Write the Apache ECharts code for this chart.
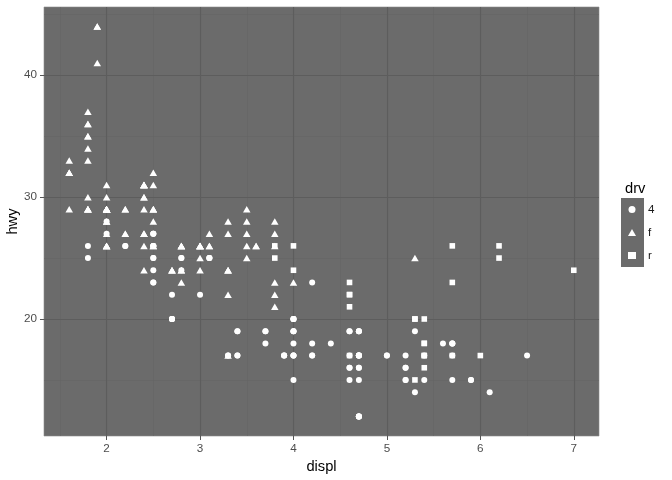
<!DOCTYPE html>
<html><head><meta charset="utf-8">
<script src="https://cdn.jsdelivr.net/npm/echarts@6/dist/echarts.min.js"></script>
<style>html,body{margin:0;padding:0;background:#fff}#c{width:672px;height:480px}</style>
</head><body><div id="c"></div>
<script>
// mpg dataset: displ, hwy, drv
const displ = [
  1.8,1.8,2.0,2.0,2.8,2.8,3.1,
  1.8,1.8,2.0,2.0,2.8,2.8,3.1,3.1,
  2.8,3.1,4.2,
  5.3,5.3,5.3,5.7,6.0,
  5.7,5.7,6.2,6.2,7.0,
  5.3,5.3,5.7,6.5,
  2.4,2.4,3.1,3.5,3.6,
  2.4,3.0,3.3,3.3,3.3,3.3,3.3,3.8,3.8,3.8,4.0,
  3.7,3.7,3.9,3.9,4.7,4.7,4.7,5.2,5.2,
  3.9,4.7,4.7,4.7,5.2,5.7,5.9,
  4.7,4.7,4.7,4.7,4.7,4.7,5.2,5.2,5.7,5.9,
  4.6,5.4,5.4,
  4.0,4.0,4.0,4.0,4.6,5.0,
  4.2,4.2,4.6,4.6,4.6,5.4,5.4,
  3.8,3.8,4.0,4.0,4.6,4.6,4.6,4.6,5.4,
  1.6,1.6,1.6,1.6,1.6,1.8,1.8,1.8,2.0,
  2.4,2.4,2.4,2.4,2.5,2.5,3.3,
  2.0,2.0,2.0,2.0,2.7,2.7,2.7,
  3.0,3.7,4.0,4.7,4.7,4.7,5.7,6.1,
  4.0,4.2,4.4,4.6,
  5.4,5.4,5.4,
  4.0,4.0,4.6,5.0,
  2.4,2.4,2.5,2.5,3.5,3.5,
  3.0,3.0,3.5,
  3.3,3.3,4.0,5.6,
  3.1,3.8,3.8,3.8,5.3,
  2.5,2.5,2.5,2.5,2.5,2.5,
  2.2,2.2,2.5,2.5,2.5,2.5,2.5,2.5,
  2.7,2.7,3.4,3.4,4.0,4.7,
  2.2,2.2,2.4,2.4,3.0,3.0,3.5,
  2.2,2.2,2.4,2.4,3.0,3.0,3.3,
  1.8,1.8,1.8,1.8,1.8,
  4.7,5.7,
  2.7,2.7,2.7,3.4,3.4,4.0,4.0,
  2.0,2.0,2.0,2.0,2.8,
  1.9,2.0,2.0,2.0,2.0,2.5,2.5,2.8,2.8,
  1.9,1.9,2.0,2.0,2.5,2.5,
  1.8,1.8,2.0,2.0,2.8,2.8,3.6
];
const hwy = [
  29,29,31,30,26,26,27,
  26,25,28,27,25,25,25,25,
  24,25,23,
  20,15,20,17,17,
  26,23,26,25,24,
  19,14,15,17,
  27,30,26,29,26,
  24,24,22,24,24,24,17,22,21,23,23,
  19,18,17,17,19,19,12,17,15,
  17,17,12,17,16,18,15,
  16,12,17,17,16,12,15,16,17,15,
  17,17,18,
  17,19,17,19,19,17,
  17,17,16,16,17,15,17,
  26,25,26,24,21,22,23,22,20,
  33,32,32,29,32,34,36,36,29,
  26,27,30,31,26,26,28,
  26,29,28,27,24,24,24,
  22,19,20,17,12,19,18,14,
  15,18,18,15,
  17,16,18,
  17,19,19,17,
  27,29,31,32,27,26,
  26,25,25,
  17,17,20,18,
  26,26,27,28,25,
  25,24,27,25,26,23,
  26,26,26,26,27,23,27,26,
  20,20,19,17,20,17,
  29,27,31,31,26,26,28,
  27,29,31,31,26,26,27,
  30,33,35,37,35,
  15,18,
  20,20,22,17,19,18,20,
  29,26,29,29,24,
  44,29,26,29,29,29,29,23,24,
  44,41,29,26,28,29,
  29,29,28,29,26,26,26
];
const drv = [
  'f','f','f','f','f','f','f',
  '4','4','4','4','4','4','4','4',
  '4','4','4',
  'r','r','r','r','r',
  'r','r','r','r','r',
  '4','4','4','4',
  'f','f','f','f','f',
  'f','f','f','f','f','f','f','f','f','f','f',
  '4','4','4','4','4','4','4','4','4',
  '4','4','4','4','4','4','4',
  '4','4','4','4','4','4','4','4','4','4',
  'r','r','r',
  '4','4','4','4','4','4',
  '4','4','4','4','4','4','4',
  'r','r','r','r','r','r','r','r','r',
  'f','f','f','f','f','f','f','f','f',
  'f','f','f','f','f','f','f',
  'f','f','f','f','f','f','f',
  '4','4','4','4','4','4','4','4',
  '4','4','4','4',
  'r','r','r',
  '4','4','4','4',
  'f','f','f','f','f','f',
  'f','f','f',
  '4','4','4','4',
  'f','f','f','f','f',
  '4','4','4','4','4','4',
  '4','4','4','4','4','4','4','4',
  '4','4','4','4','4','4',
  'f','f','f','f','f','f','f',
  'f','f','f','f','f','f','f',
  'f','f','f','f','f',
  '4','4',
  '4','4','4','4','4','4','4',
  'f','f','f','f','f',
  'f','f','f','f','f','f','f','f','f',
  'f','f','f','f','f','f',
  'f','f','f','f','f','f','f'
];
const drvLevels = ['4', 'f', 'r'];
const xTicks = [2, 3, 4, 5, 6, 7];
const xMinor = [1.5, 2.5, 3.5, 4.5, 5.5, 6.5];
const yTicks = [20, 30, 40];
const yMinor = [15, 25, 35, 45];

const shapes = { '4': 'circle', 'f': 'triangle', 'r': 'rect' };
const sizes = { '4': 6, 'f': [7.5, 6.5], 'r': 5.6 };

const PANEL = '#6b6b6b';
const MAJOR = '#5d5d5d';
const MINOR = '#646464';
const FONT = 'Liberation Sans, Arial, sans-serif';

const pointSeries = drvLevels.map(lv => ({
  name: lv,
  type: 'scatter',
  symbol: shapes[lv],
  symbolSize: sizes[lv],
  itemStyle: { color: '#ffffff', opacity: 1 },
  z: 5,
  silent: true,
  data: displ.map((d, i) => [d, hwy[i], drv[i]]).filter(p => p[2] === lv).map(p => [p[0], p[1]])
}));

const gridLines = [];
xMinor.forEach(v => gridLines.push({ xAxis: v, lineStyle: { color: MINOR, width: 0.6 } }));
yMinor.forEach(v => gridLines.push({ yAxis: v, lineStyle: { color: MINOR, width: 0.6 } }));
xTicks.forEach(v => gridLines.push({ xAxis: v, lineStyle: { color: MAJOR, width: 1.1 } }));
yTicks.forEach(v => gridLines.push({ yAxis: v, lineStyle: { color: MAJOR, width: 1.1 } }));

const gridSeries = {
  name: 'grid', type: 'scatter', data: [], z: 1, silent: true,
  markLine: {
    silent: true, symbol: ['none', 'none'], animation: false,
    label: { show: false },
    lineStyle: { type: 'solid' },
    emphasis: { disabled: true },
    data: gridLines
  }
};

const chart = echarts.init(document.getElementById('c'), null, { renderer: 'canvas' });
chart.setOption({
  animation: false,
  backgroundColor: '#ffffff',
  textStyle: { fontFamily: FONT },
  grid: { left: 44, right: 73, top: 7, bottom: 44, show: true, backgroundColor: PANEL, borderColor: '#8c8c8c', borderWidth: 0.6, containLabel: false, outerBoundsMode: 'none' },
  title: {
    text: 'drv', left: 620, top: 176,
    textStyle: { fontFamily: FONT, fontSize: 14.7, fontWeight: 'normal', color: '#000' }
  },
  graphic: [{
    type: 'rect', left: 621, top: 198, z: 0,
    shape: { width: 23, height: 69 },
    style: { fill: PANEL }
  }],
  legend: {
    data: drvLevels,
    orient: 'vertical', left: 628, top: 198, padding: 0,
    itemWidth: 8, itemHeight: 7, itemGap: 0,
    selectedMode: false,
    itemStyle: { color: '#ffffff' },
    textStyle: { fontFamily: FONT, fontSize: 11.7, color: '#1a1a1a', lineHeight: 23, padding: [0, 0, 0, 7] }
  },
  xAxis: {
    type: 'value', min: 1.33, max: 7.27,
    name: 'displ', nameLocation: 'middle', nameGap: 23, nameMoveOverlap: false,
    nameTextStyle: { fontFamily: FONT, fontSize: 14.7, color: '#000' },
    axisLine: { show: false },
    axisTick: { show: true, length: 4, lineStyle: { color: '#555', width: 1 }, customValues: xTicks },
    axisLabel: { margin: 7, fontFamily: FONT, fontSize: 11.7, color: '#4d4d4d', customValues: xTicks },
    splitLine: { show: false }
  },
  yAxis: {
    type: 'value', min: 10.4, max: 45.6,
    name: 'hwy', nameLocation: 'middle', nameGap: 24, nameRotate: 90, nameMoveOverlap: false,
    nameTextStyle: { fontFamily: FONT, fontSize: 14.7, color: '#000' },
    axisLine: { show: false },
    axisTick: { show: true, length: 4, lineStyle: { color: '#555', width: 1 }, customValues: yTicks },
    axisLabel: { margin: 7, fontFamily: FONT, fontSize: 11.7, color: '#4d4d4d', customValues: yTicks },
    splitLine: { show: false }
  },
  series: [gridSeries].concat(pointSeries)
});
</script></body></html>
